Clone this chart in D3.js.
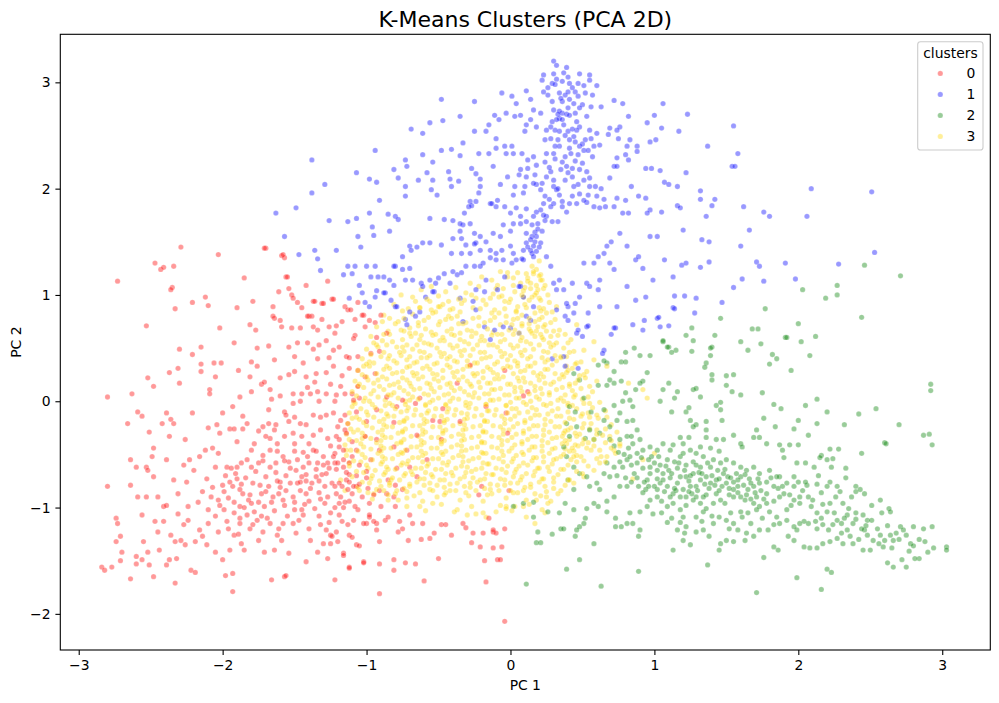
<!DOCTYPE html>
<html>
<head>
<meta charset="utf-8">
<script src="https://cdn.jsdelivr.net/npm/d3@7/dist/d3.min.js"></script>
<style>
  body { margin: 0; background: #fff; }
  svg text { font-family: "DejaVu Sans", sans-serif; }
</style>
</head>
<body>
<div id="chart"></div>
<script>
// cluster labels + colours (seaborn palette passed as a list)
const clusterNames = ["0", "1", "2", "3"];
const clusterColors = ["red", "blue", "green", "gold"];

const xTicks = [-3, -2, -1, 0, 1, 2, 3];
const yTicks = [-2, -1, 0, 1, 2, 3];

// PCA coordinates, [PC1, PC2]
const cluster0 = [
[-2.73,1.13],[-2.47,1.30],[-2.43,1.24],[-2.41,1.26],[-2.34,1.27],[-2.29,1.45],[-2.35,1.07],[-2.36,1.05],[-2.33,0.87],[-2.53,0.71],[-2.21,0.93],[-2.12,0.98],[-2.10,0.90],[-2.03,1.38],[-2.02,0.69],[-1.90,0.88],[-1.85,1.16],[-1.81,0.72],[-1.79,0.94],[-1.77,0.67],[-1.70,1.44],[-1.65,0.89],[-1.64,0.78],[-1.61,1.03],[-1.59,1.37],[-1.57,1.35],[-1.56,1.17],[-1.54,1.06],[-1.52,1.00],[-1.51,0.97],[-1.48,0.93],[-1.45,0.88],[-1.42,1.09],[-1.40,0.80],[-1.38,0.80],[-1.37,0.94],[-1.31,0.92],[-1.27,1.13],[-1.24,0.96],[-1.15,0.89],[-1.13,0.86],[-1.06,0.93],[-1.08,0.62],[-1.02,0.81],[-0.98,0.76],[-0.94,0.74],
[-1.65,0.80],[-1.60,0.76],[-1.59,0.70],[-1.52,0.69],[-1.46,0.69],[-1.41,0.80],[-1.37,0.70],[-1.34,0.67],[-1.31,0.77],[-1.26,0.70],[-1.22,0.64],[-1.21,0.71],[-1.17,0.75],[-1.08,0.77],[-1.03,0.81],[-1.01,0.70],[-0.90,0.81],[-1.36,0.94],[-1.30,0.92],[-1.23,0.96],[-1.11,0.86],[-1.55,1.17],[-1.71,1.44],[-1.58,1.38],
[-2.30,0.49],[-2.15,0.51],[-2.21,0.44],[-1.92,0.55],[-1.76,0.50],[-1.68,0.52],[-1.54,0.51],[-1.48,0.55],[-1.41,0.55],[-1.33,0.53],[-1.28,0.57],[-1.34,0.40],[-1.37,0.49],[-1.23,0.48],[-1.19,0.51],[-1.14,0.42],[-1.09,0.59],[-1.06,0.42],[-0.97,0.45],[-0.91,0.47],
[-2.37,0.27],[-2.31,0.31],[-2.15,0.35],[-2.15,0.28],[-2.06,0.36],[-2.01,0.36],[-2.05,0.23],[-1.89,0.29],[-1.80,0.37],[-1.76,0.33],[-1.81,0.23],[-1.64,0.39],[-1.60,0.22],[-1.54,0.25],[-1.50,0.28],[-1.44,0.36],[-1.42,0.23],[-1.35,0.26],[-1.28,0.27],[-1.23,0.33],[-1.17,0.24],[-1.12,0.41],[-1.12,0.31],[-1.06,0.29],[-1.01,0.23],[-0.94,0.26],
[-2.52,0.22],[-2.48,0.14],[-2.30,0.17],[-2.63,0.07],[-2.80,0.04],[-2.09,0.11],[-2.09,0.07],[-1.93,-0.05],[-1.88,0.04],[-1.73,0.16],[-1.71,0.18],[-1.80,0.09],[-1.67,0.11],[-1.66,0.02],[-1.51,0.07],[-1.45,0.07],[-1.41,0.13],[-1.39,0.07],[-1.34,0.09],[-1.28,0.07],[-1.21,0.06],[-1.15,0.07],[-1.10,0.07],[-1.06,0.14],[-1.57,-0.10],[-1.51,-0.02],
[-2.59,-0.10],[-2.56,-0.14],[-2.66,-0.21],[-2.51,-0.29],[-2.42,-0.21],[-2.39,-0.11],[-2.36,-0.17],[-2.34,-0.21],[-2.37,-0.33],[-2.26,-0.36],[-2.21,-0.11],[-2.10,-0.25],[-2.00,-0.11],[-2.04,-0.22],[-2.02,-0.30],[-1.95,-0.26],[-1.92,-0.26],[-1.86,-0.14],[-1.83,-0.21],[-1.86,-0.26],[-1.75,-0.28],[-1.72,-0.24],[-1.68,-0.21],[-1.64,-0.27],[-1.63,-0.22],[-1.67,-0.35],[-1.56,-0.13],[-1.54,-0.19],[-1.50,-0.15],[-1.46,-0.21],[-1.42,-0.22],[-1.37,-0.13],[-1.32,-0.15],[-1.28,-0.13],[-1.23,-0.11],[-1.20,-0.24],[-1.15,-0.13],[-1.21,-0.33],[-1.27,-0.35],[-1.37,-0.32],[-1.51,-0.30],[-1.57,-0.33],[-1.15,-0.27],[-1.13,-0.21],
[-2.64,-0.55],[-2.60,-0.62],[-2.53,-0.62],[-2.52,-0.65],[-2.49,-0.52],[-2.48,-0.44],[-2.39,-0.55],[-2.27,-0.60],[-2.23,-0.55],[-2.20,-0.65],[-2.16,-0.52],[-2.12,-0.46],[-2.07,-0.44],[-2.03,-0.49],[-1.97,-0.62],[-1.94,-0.63],[-1.90,-0.62],[-1.87,-0.58],[-1.83,-0.55],[-1.80,-0.46],[-1.75,-0.58],[-1.72,-0.51],[-1.67,-0.46],[-1.62,-0.47],[-1.58,-0.52],[-1.54,-0.57],[-1.50,-0.47],[-1.48,-0.55],[-1.44,-0.62],[-1.41,-0.52],[-1.37,-0.46],[-1.34,-0.58],[-1.30,-0.52],[-1.27,-0.58],[-1.22,-0.49],[-1.19,-0.43],[-1.16,-0.55],[-1.12,-0.58],[-1.07,-0.46],
[-2.80,-0.80],[-2.64,-0.79],[-2.59,-0.90],[-2.56,-1.07],[-2.53,-0.90],[-2.48,-0.71],[-2.45,-0.90],[-2.41,-0.99],[-2.39,-0.98],[-2.34,-0.74],[-2.31,-0.87],[-2.25,-0.76],[-2.24,-0.99],[-2.17,-0.95],[-2.11,-0.73],[-2.08,-0.90],[-2.07,-0.81],[-2.03,-0.93],[-2.00,-0.79],[-1.96,-0.91],[-1.93,-0.80],[-1.90,-0.73],[-1.88,-0.99],[-1.86,-0.87],[-1.82,-0.93],[-1.79,-0.77],[-1.75,-0.95],[-1.73,-0.87],[-1.68,-0.80],[-1.65,-0.90],[-1.61,-0.87],[-1.60,-0.76],[-1.56,-0.84],[-1.53,-0.77],[-1.51,-0.90],[-1.48,-0.77],[-1.45,-0.71],[-1.42,-0.87],[-1.38,-0.77],[-1.35,-0.71],[-1.31,-0.69],[-1.29,-0.80],[-1.24,-0.77],[-1.21,-0.87],[-1.17,-0.80],[-1.14,-0.74],[-1.10,-0.87],[-1.07,-0.80],[-1.03,-0.90],[-0.99,-0.82],[-0.95,-0.88],[-0.91,-0.84],[-0.86,-0.87],
[-2.74,-1.10],[-2.73,-1.15],[-2.71,-1.27],[-2.74,-1.32],[-2.70,-1.42],[-2.71,-1.50],[-2.84,-1.56],[-2.82,-1.59],[-2.77,-1.56],[-2.64,-1.67],[-2.60,-1.46],[-2.60,-1.53],[-2.56,-1.49],[-2.55,-1.32],[-2.51,-1.54],[-2.52,-1.42],[-2.48,-1.65],[-2.47,-1.13],[-2.45,-1.23],[-2.44,-1.40],[-2.41,-1.13],[-2.39,-1.54],[-2.37,-1.49],[-2.36,-1.26],[-2.33,-1.32],[-2.32,-1.48],[-2.33,-1.71],[-2.31,-1.06],[-2.29,-1.31],[-2.27,-1.16],[-2.26,-1.35],[-2.24,-1.12],[-2.22,-1.59],[-2.19,-1.61],[-2.19,-1.32],[-2.16,-1.21],[-2.14,-1.27],[-2.11,-1.35],[-2.10,-1.15],[-2.05,-1.42],[-2.03,-1.23],[-2.00,-1.49],[-1.98,-1.64],[-1.97,-1.13],[-1.95,-1.40],[-1.93,-1.62],[-1.93,-1.79],[-1.92,-1.26],[-1.88,-1.15],[-1.87,-1.34],[-1.85,-1.40],[-1.83,-1.07],[-1.81,-1.20],[-1.76,-1.12],[-1.75,-1.31],[-1.72,-1.23],[-1.71,-1.42],[-1.67,-1.15],[-1.66,-1.68],[-1.64,-1.40],[-1.61,-1.20],[-1.59,-1.31],[-1.57,-1.65],[-1.56,-1.64],[-1.54,-1.43],[-1.51,-1.15],[-1.49,-1.24],[-1.44,-1.07],[-1.42,-1.51],[-1.39,-1.31],[-1.34,-1.42],[-1.32,-1.16],[-1.30,-1.34],[-1.27,-1.48],[-1.25,-1.26],[-1.22,-1.68],[-1.20,-1.32],[-1.17,-1.13],[-1.16,-1.43],[-1.12,-1.56],[-1.12,-1.26],[-1.09,-1.12],[-1.07,-1.35],[-1.02,-1.51],[-1.00,-1.15],[-0.98,-1.09],[-0.93,-1.15],[-0.91,-1.53],[-0.91,-1.81],[-0.91,-1.32],[-0.87,-1.12],
[-0.60,-1.69],[-0.17,-1.70],[-0.09,-1.49],[-0.12,-1.38],[-0.18,-1.50],[-0.50,-1.48],[-0.66,-1.53],[-0.73,-1.52],[-0.81,-1.49],[-0.81,-1.59],[-1.02,-1.52],[-1.12,-1.57],[-0.62,-1.30],[-0.56,-1.29],[-0.53,-1.24],[-0.48,-1.16],[-0.45,-1.16],[-0.41,-1.26],[-0.33,-1.15],[-0.31,-1.19],[-0.27,-1.33],[-0.21,-1.37],[-0.19,-1.24],[-0.26,-1.24],[-0.12,-1.23],[-0.10,-1.24],[-0.71,-1.31],[-0.78,-1.23],[-0.75,-1.20],[-0.68,-1.15],[-0.70,-1.07],[-0.61,-1.15],[-0.77,-1.13],[-0.80,-0.99],[-0.81,-0.90],[-0.85,-1.09],[-0.90,-0.99],[-0.93,-1.21],[-0.98,-1.07],[-0.95,-1.13],[-1.02,-1.15],[-1.05,-1.36],[-1.10,-1.28],[-1.13,-1.16],[-1.06,-1.02],[-1.12,-0.94],[-1.19,-0.96],[-1.21,-1.23],[-1.16,-1.45],[-1.24,-1.27],[-1.28,-1.21],[-1.25,-1.34],
[-0.97,-0.55],[-0.91,-0.46],[-0.93,-0.36],[-1.01,-0.33],[-1.07,-0.10],[-1.09,0.01],[-1.05,0.03],[-1.00,-0.19],[-0.93,-0.08],[-0.86,0.04],[-0.79,-0.05],[-0.75,0.01],[-0.66,-0.02],[-0.63,0.03],[-0.54,-0.18],[-0.48,-0.36],[-0.47,-0.07],[-0.35,-0.19],[-0.81,-0.43],[-0.79,-0.63],[-0.85,-0.74],[-0.80,-0.79],[-0.75,-0.83],[-0.65,-0.71],[-0.70,-0.62],[-0.72,-0.46],[-0.65,-0.32],[-0.58,-0.55],[-0.22,-0.88],[-0.20,-0.80],[-0.15,-1.10],[-0.12,-1.21],[-1.23,-0.52],[-1.16,-0.46],[-1.14,-0.30],[-1.19,-0.36],[-1.22,-0.58],[-1.12,-0.69],[-1.09,-0.80],[-1.13,-0.83],
[-0.04,0.29],[0.12,0.09],[0.09,0.05],[-0.03,-0.11],[-0.02,-0.30],[-0.01,-0.84],[-0.04,-1.20],[-0.06,-1.37],[-0.07,-1.49],[-0.04,-2.07],[-0.37,0.17],[-0.28,0.34],[-0.17,-0.05],[-0.81,-0.20],[-0.49,-0.19],[-0.93,0.60],[-0.86,0.64]
];
// extra reading of the crowded red core
const cluster0Core = [
[-1.98,-0.70],[-1.91,-0.68],[-1.84,-0.72],[-1.77,-0.66],[-1.70,-0.71],[-1.63,-0.67],[-1.56,-0.70],[-1.49,-0.65],[-1.42,-0.69],[-1.35,-0.64],[-1.28,-0.68],[-1.21,-0.64],[-1.14,-0.67],[-1.07,-0.70],[-1.00,-0.66],
[-1.99,-1.02],[-1.92,-1.05],[-1.85,-1.00],[-1.78,-1.04],[-1.71,-0.99],[-1.64,-1.03],[-1.57,-0.98],[-1.50,-1.02],[-1.43,-0.97],[-1.36,-1.01],[-1.29,-0.96],[-1.22,-1.00],[-1.15,-0.95],[-1.08,-0.99],
[-2.05,-1.08],[-1.96,-1.20],[-1.89,-1.25],[-1.79,-1.16],[-1.69,-1.10],[-1.62,-1.26],[-1.55,-1.08],[-1.47,-1.12],[-1.40,-1.20],[-1.33,-1.08],[-1.26,-1.14],[-1.19,-1.07],
[-2.14,-0.85],[-2.05,-0.62],[-1.99,-0.85],[-1.88,-0.83],[-1.81,-0.88],[-1.70,-0.85],[-1.63,-0.58],[-1.58,-0.93],[-1.46,-0.84],[-1.40,-0.58],[-1.33,-0.86],[-1.27,-0.90],[-1.20,-0.58],[-1.18,-0.90],[-1.05,-0.60],[-0.98,-0.96],
[-1.45,-0.33],[-1.40,-0.40],[-1.32,-0.27],[-1.25,-0.42],[-1.18,-0.18],[-1.10,-0.38],[-1.62,-0.40],[-1.70,-0.33],[-1.78,-0.40],[-1.90,-0.38],
[-1.46,0.00],[-1.33,0.00],[-1.25,0.16],[-1.18,0.14],[-1.36,0.18],[-1.60,0.05],[-1.50,0.42],[-1.26,0.41],[-1.68,-0.08],[-1.22,0.00],
[-1.95,-0.76],[-1.87,-0.78],[-1.80,-0.62],[-1.74,-0.79],[-1.67,-0.62],[-1.60,-0.81],[-1.53,-0.63],[-1.46,-0.76],[-1.39,-0.82],[-1.33,-0.75],[-1.26,-0.63],[-1.19,-0.77],[-1.12,-0.76],[-1.05,-0.78],[-1.40,-0.94],[-1.32,-0.92],[-1.25,-1.05],[-1.16,-1.00],[-1.50,-0.95],[-1.66,-0.95],[-1.80,-0.96],[-1.92,-0.95],[-1.88,-1.10],[-1.73,-1.08],[-1.58,-1.15],[-1.45,-1.02],[-1.30,-0.60],[-1.16,-0.62],[-1.10,-0.52],[-1.00,-0.72],[-2.02,-0.98],[-2.10,-1.02],[-1.50,-0.40],[-1.35,-0.47],[-1.44,-0.48],[-1.57,-0.56],[-1.72,-0.56],[-1.62,-0.75],[-1.42,-0.75],[-1.22,-0.80]
];

const cluster1 = [
[0.30,3.20],[0.32,3.16],[0.39,3.14],[0.23,3.07],[0.30,3.08],[0.37,3.09],[0.48,3.08],[0.55,3.07],[0.40,3.05],[0.22,3.02],[0.29,2.99],[0.31,2.98],[0.36,3.01],[0.41,2.99],[0.47,2.99],[0.55,3.02],[0.60,2.97],[0.51,2.97],[0.23,2.91],[0.26,2.88],[0.34,2.90],[0.38,2.88],[0.40,2.91],[0.45,2.91],[0.47,2.87],[0.57,2.88],[0.14,2.84],[0.11,2.92],[0.04,2.80],[0.01,2.87],[-0.06,2.90],[-0.25,2.82],[-0.48,2.84],[0.29,2.82],[0.36,2.82],[0.41,2.84],[0.50,2.79],[0.48,2.76],[0.56,2.77],[0.63,2.77],[0.72,2.83],[0.78,2.80],[1.06,2.80],[1.23,2.70],[1.55,2.59],[1.58,2.33],[1.54,2.21],[1.56,2.21],[1.62,1.83],[1.76,1.78],[1.80,1.74],[1.66,1.61],[1.60,1.46],[1.71,1.31],[1.73,1.27],[1.76,1.13],[1.61,1.15],[1.55,1.07],[1.47,0.93],[1.37,2.40],[1.17,2.54],[1.00,2.69],[0.95,2.62],[1.01,2.46],[0.97,2.44],[1.05,2.57],[0.83,2.46],[0.82,2.68],[0.76,2.58],[0.74,2.55],[0.69,2.57],[0.68,2.51],[0.75,2.47],[0.81,2.40],[0.88,2.40],[0.88,2.35],[0.82,2.27],[0.80,2.32],[0.74,2.29],[0.72,2.21],[0.74,2.21],[0.69,2.10],[0.94,2.19],[0.98,2.19],[1.04,2.17],[1.22,2.15],[1.07,2.06],[1.10,2.04],[1.16,2.02],[1.32,1.98],[1.42,1.90],[1.32,1.90],[1.40,1.84],[1.36,1.74],[1.16,1.84],[1.18,1.82],[1.05,1.78],[0.97,1.80],[0.95,1.77],[0.84,2.02],[0.89,1.93],[0.94,1.91],[0.80,1.89],[0.74,1.91],[0.78,1.77],[0.82,1.77],[0.72,1.83],[0.66,1.83],[0.62,1.82],[0.58,1.83],[0.60,1.93],[0.53,1.87],[0.51,1.89],[0.54,1.94],[0.59,2.02],[0.55,2.02],[0.51,2.08],[0.47,2.04],[0.44,2.02],[0.43,1.93],[0.46,1.86],[0.41,1.86],[0.48,2.18],[0.53,2.16],[0.43,2.11],[0.43,2.19],[0.39,2.21],[0.36,2.25],[0.30,2.08],[0.30,2.02],[0.32,1.99],[0.34,1.94],[0.30,1.86],[0.36,1.88],[0.36,1.83],[0.28,1.83],[0.25,1.74],[0.23,1.75],[0.29,1.69],[0.33,1.69],[0.19,1.67],[0.15,1.66],[0.11,1.69],[0.17,1.59],[0.18,1.55],[0.15,1.55],[0.17,1.50],[0.16,1.46],[0.14,1.42],[0.18,1.41],[0.11,1.49],[0.09,1.42],[0.21,1.49],[0.15,1.39],[0.04,1.33],[0.02,1.39],[0.00,1.46],[0.09,1.33],[0.11,1.58],[0.07,1.67],[0.16,1.74],[0.21,1.80],[0.23,1.86],[0.24,1.93],[0.21,1.99],[0.18,2.04],[0.22,2.05],[0.25,2.11],[0.28,2.16],[0.24,2.25],[0.25,2.33],[0.30,2.33],[0.33,2.46],[0.34,2.40],[0.31,2.40],[0.24,2.46],[0.28,2.47],[0.34,2.54],[0.31,2.55],[0.34,2.66],[0.36,2.65],[0.32,2.65],[0.36,2.71],[0.34,2.73],[0.30,2.74],[0.39,2.70],[0.41,2.69],[0.45,2.71],[0.46,2.63],[0.48,2.58],[0.46,2.55],[0.44,2.49],[0.40,2.54],[0.41,2.46],[0.48,2.40],[0.47,2.32],[0.51,2.36],[0.54,2.36],[0.58,2.40],[0.56,2.47],[0.52,2.46],[0.60,2.52],[0.62,2.41],[0.41,2.38],[0.38,2.30],[0.29,2.63],[0.25,2.55],[0.18,2.58],[0.10,2.54],[0.11,2.60],[0.14,2.65],[0.21,2.71],[0.16,2.74],[0.07,2.69],[0.03,2.68],[-0.03,2.71],[-0.08,2.65],[-0.11,2.69],[-0.15,2.60],[-0.17,2.54],[-0.10,2.47],[-0.04,2.40],[0.01,2.40],[-0.03,2.33],[0.02,2.33],[0.08,2.33],[0.12,2.27],[0.16,2.30],[0.18,2.22],[0.12,2.19],[0.07,2.18],[0.06,2.13],[0.11,2.11],[0.17,2.13],[0.16,2.05],[0.10,2.02],[0.09,1.96],[0.03,2.02],[0.02,1.94],[-0.02,2.11],[-0.07,2.04],[-0.09,1.89],[-0.10,1.83],[-0.14,1.86],[-0.04,1.83],[0.00,1.77],[0.04,1.82],[0.11,1.81],[0.07,1.74],[0.02,1.67],[-0.05,1.66],[0.00,1.60],[-0.07,1.55],[-0.12,1.58],[-0.17,1.50],[-0.21,1.55],[-0.25,1.58],[-0.28,1.67],[-0.33,1.66],[-0.35,1.60],[-0.40,1.53],[-0.34,1.53],[-0.31,1.47],[-0.24,1.49],[-0.21,1.42],[-0.14,1.42],[-0.10,1.39],[-0.06,1.42],[-0.14,1.35],[-0.19,1.30],[-0.25,1.27],[-0.31,1.27],[-0.34,1.21],[-0.40,1.22],[-0.46,1.20],[-0.50,1.16],[-0.56,1.14],[-0.62,1.11],[-0.68,1.14],[-0.70,1.25],[-0.75,1.24],[-0.80,1.27],[-0.84,1.14],[-0.88,1.17],[-0.87,1.02],[-0.80,0.89],[-0.73,0.77],[-0.66,0.80],[-0.59,0.98],[-0.53,1.03],[-0.42,1.11],[-0.35,0.97],[-0.24,1.05],[-0.21,1.27],[-0.10,1.33],[-0.17,1.14],[-0.09,1.05],[-0.04,1.17],[0.07,1.08],[0.09,0.98],[0.16,0.89],[0.11,0.80],[0.28,1.27],[0.30,1.11],[0.34,1.14],[0.37,1.05],[0.43,1.11],[0.45,0.92],[0.40,0.89],[0.48,0.98],[0.53,1.11],[0.55,1.08],[0.61,1.05],[0.62,1.14],[0.51,1.30],[0.58,1.30],[0.61,1.36],[0.65,1.39],[0.69,1.30],[0.72,1.24],[0.67,1.46],[0.70,1.50],[0.76,1.58],[0.81,1.46],[0.87,1.33],[0.89,1.36],[0.92,1.25],[0.97,1.55],[1.02,1.55],[1.07,1.33],[1.13,1.17],[1.19,1.28],[1.22,1.30],[1.32,1.26],[1.33,1.52],[1.38,1.50],[1.38,1.31],[1.20,1.61],[0.81,1.08],[0.87,0.95],[0.94,0.98],[0.99,1.14],[1.02,0.78],[1.13,0.88],[1.29,0.97],[1.28,0.83],[0.74,0.89],[0.62,0.89],[0.54,0.83],[0.38,0.80],[0.32,0.86],
[-0.69,2.56],[-0.61,2.52],[-0.56,2.62],[-0.47,2.64],[-0.35,2.68],[-0.25,2.54],[-0.33,2.43],[-0.48,2.36],[-0.41,2.37],[-0.35,2.31],[-0.22,2.33],[-0.15,2.33],[-0.10,2.38],[-0.61,2.32],[-0.54,2.25],[-0.73,2.27],[-0.72,2.21],[-0.81,2.18],[-0.78,2.10],[-0.64,2.08],[-0.58,2.15],[-0.54,2.08],[-0.43,2.16],[-0.42,2.09],[-0.27,2.19],[-0.24,2.14],[-0.21,2.09],[-0.12,2.21],[-0.73,2.02],[-0.73,1.93],[-0.55,1.99],[-0.51,1.94],[-0.41,2.02],[-0.36,2.07],[-0.21,2.02],[-0.22,1.96],[-0.28,1.88],[-0.29,1.83],[-0.32,1.77],[-0.27,1.84],[-0.24,1.88],[-0.13,1.86],[-0.85,1.76],[-0.80,1.74],[-0.78,1.71],[-0.84,1.60],[-0.56,1.72],[-0.46,1.71],[-0.40,1.70],[-0.35,1.67],[-0.70,1.46],[-0.69,1.42],[-0.65,1.45],[-0.61,1.49],[-0.56,1.49],[-0.48,1.47],[-0.41,1.39],[-0.34,1.39],[-0.28,1.39],[-0.25,1.48],[-0.75,1.36],[-0.81,1.27],[-0.81,1.09],[-0.73,1.14],[-0.61,1.08],[-0.54,1.03],
[-1.38,2.27],[-1.38,1.96],[-1.29,2.04],[-1.63,1.77],[-1.49,1.82],[-1.57,1.55],[-1.47,1.38],[-1.36,1.42],[-1.34,1.34],[-1.32,1.23],[-1.26,1.70],[-1.21,1.42],[-1.16,1.19],[-1.12,0.97],[-1.13,1.69],[-1.07,2.15],[-1.07,1.72],[-1.06,1.55],[-1.08,1.27],[-1.13,1.27],[-1.05,1.09],[-1.03,1.02],[-1.01,0.93],[-1.04,1.45],[-1.00,1.27],[-0.98,1.77],[-0.98,2.09],[-0.96,1.64],[-0.94,2.36],[-0.93,2.06],[-0.95,1.56],[-0.94,1.27],[-0.97,1.17],[-0.92,1.17],[-0.93,1.04],[-0.94,0.98],[-0.98,0.89],[-0.91,1.89],
[-1.10,1.20],[-0.88,1.02],[-0.83,0.95],[-0.79,0.89],[-0.72,0.72],[-0.70,0.84],[-0.63,0.84],[-0.52,1.11],[-0.37,1.19],[-0.33,0.75],[-0.26,0.94],[-0.24,0.86],[-0.18,0.70],[-0.18,1.03],[-0.14,0.58],[-0.11,0.67],[-0.05,0.70],[0.00,0.69],[0.06,0.64],[0.14,0.76],[0.06,1.08],[0.08,1.34],[-0.05,1.33],[0.01,1.30],[0.25,1.36],[0.32,1.05],[0.39,0.92],[0.44,0.83],[0.53,0.70],[0.46,0.64],[0.65,0.48],[0.73,0.69],[0.37,0.42],[0.38,0.33],[0.29,0.40],[0.47,0.31],[0.64,0.45],
[2.09,2.00],[2.51,1.97],[2.06,1.74],[2.53,1.40],[2.28,1.29],[1.91,1.30],[1.98,1.15],[0.92,0.67],[0.70,0.63],[0.72,0.69],[0.54,0.71],[0.47,0.67],[0.50,0.61],[0.40,0.76],[1.03,0.79],[1.10,0.71],[0.85,0.72],[0.93,0.76],[1.04,0.70],[1.14,0.87],[1.21,0.99],[1.14,0.99]
];
// extra reading of the darker blue column
const cluster1Core = [
[0.20,1.45],[0.14,1.52],[0.19,1.62],[0.24,1.70],[0.18,1.78],[0.27,1.90],[0.33,2.00],[0.38,2.08],[0.40,2.15],[0.35,2.18],[0.45,2.26],[0.42,2.33],[0.50,2.42],[0.45,2.44],[0.38,2.50],[0.43,2.56],[0.37,2.60],[0.33,2.70],[0.40,2.76],[0.44,2.80],[0.35,2.85],[0.43,2.95],[0.32,3.03],[0.26,2.95],[0.52,2.90],[0.53,2.68],[0.55,2.55],[0.57,2.30],[0.50,2.24],[0.55,2.10],[0.63,2.00],[0.65,1.90],[0.48,1.95],[0.39,1.78],[0.12,1.45],[0.16,1.36],[0.22,1.60],[0.27,2.20],[0.31,2.28],[0.28,2.58]
];

const cluster2 = [
[1.22,0.62],[1.42,0.62],[1.74,0.54],[1.60,0.56],[1.82,0.44],[1.85,0.40],[1.80,0.35],[1.91,0.60],[2.02,0.56],[2.08,0.43],[2.12,0.61],[1.95,0.29],[1.65,0.48],[1.40,0.51],[1.39,0.43],[1.36,0.36],[1.35,0.32],[1.26,0.47],[1.15,0.48],[1.10,0.51],[1.12,0.46],[1.06,0.56],[0.97,0.43],[0.90,0.43],[0.86,0.50],[0.80,0.46],[0.77,0.37],[0.80,0.37],[0.67,0.36],[0.65,0.38],[0.61,0.34],[0.72,0.28],[0.69,0.20],[0.77,0.19],[0.72,0.17],[0.67,0.15],[0.95,0.27],[0.92,0.19],[0.90,0.17],[0.87,0.11],[0.80,0.08],[0.83,0.01],[0.78,0.00],[0.85,-0.05],[1.04,0.00],[1.06,0.11],[1.10,0.17],[1.16,0.09],[1.14,0.03],[1.12,-0.10],[1.22,-0.10],[1.27,0.11],[1.29,0.12],[1.32,0.04],[1.40,0.20],[1.40,0.25],[1.43,-0.04],[1.46,-0.01],[1.50,0.24],[1.55,0.25],[1.50,0.15],[1.54,0.09],[1.60,0.06],[1.47,-0.18],[1.46,-0.08],[1.55,-0.32],[1.48,-0.36],[1.43,-0.36],[1.36,-0.19],[1.29,-0.22],[1.27,-0.24],[1.25,-0.18],[1.24,-0.34],[1.18,-0.34],[1.24,-0.06],[1.36,-0.27],[1.36,-0.34],[1.45,-0.47],[1.60,-0.40],[1.61,-0.43],[1.69,-0.34],[1.71,-0.27],[1.73,-0.34],[1.76,-0.16],[1.75,0.08],[1.83,-0.03],[1.88,-0.07],[1.84,-0.24],[1.78,-0.40],[1.87,-0.41],[1.89,-0.46],[1.94,-0.41],[2.00,-0.41],[1.97,-0.26],[2.00,-0.18],[2.07,-0.32],[2.05,-0.04],[2.13,0.02],[2.20,-0.10],[2.13,-0.21],[2.16,-0.51],[2.20,-0.55],[2.24,-0.54],[2.28,-0.45],[2.32,-0.22],[2.42,-0.12],[2.54,-0.07],[2.70,-0.22],[2.44,-0.49],[2.60,-0.39],[2.87,-0.32],[2.91,-0.31],[2.93,-0.41],[2.92,0.16],[2.92,0.10],[2.33,-0.63],[2.33,-0.72],[2.40,-0.80],[2.27,-0.80],[2.29,-0.85],[2.22,-0.76],[2.20,-0.80],[2.16,-0.86],[2.13,-0.78],[2.06,-0.79],[2.05,-0.76],[2.00,-0.76],[1.99,-0.58],[2.05,-0.58],[2.11,-0.62],[2.14,-0.70],[2.23,-0.62],[1.90,-0.53],[1.87,-0.71],[1.86,-0.82],[1.90,-0.87],[1.94,-0.88],[1.97,-0.93],[2.01,-0.90],[2.01,-0.96],[2.07,-0.90],[2.09,-0.99],[2.13,-1.05],[2.20,-1.04],[2.22,-0.96],[2.26,-0.90],[2.31,-0.96],[2.37,-0.90],[2.40,-0.85],[2.43,-0.83],[2.46,-0.87],[2.51,-0.98],[2.57,-0.93],[2.58,-1.05],[2.63,-1.01],[2.64,-1.04],[2.71,-1.18],[2.80,-1.18],[2.87,-1.20],[2.93,-1.18],[2.88,-1.32],[2.94,-1.38],[3.03,-1.37],[3.03,-1.40],[2.90,-1.42],[2.84,-1.48],[2.77,-1.41],[2.78,-1.34],[2.75,-1.26],[2.68,-1.24],[2.64,-1.26],[2.66,-1.31],[2.65,-1.38],[2.59,-1.37],[2.56,-1.34],[2.57,-1.26],[2.52,-1.31],[2.48,-1.26],[2.46,-1.21],[2.44,-1.20],[2.48,-1.12],[2.51,-1.12],[2.45,-1.07],[2.40,-1.05],[2.35,-1.01],[2.34,-1.07],[2.38,-1.15],[2.34,-1.21],[2.30,-1.15],[2.27,-1.12],[2.24,-1.16],[2.21,-1.21],[2.17,-1.16],[2.13,-1.20],[2.12,-1.13],[2.07,-1.15],[2.04,-1.13],[2.01,-1.15],[1.99,-1.21],[1.97,-1.18],[1.93,-1.27],[1.97,-1.31],[2.04,-1.37],[2.08,-1.38],[2.13,-1.38],[2.17,-1.34],[2.22,-1.32],[2.27,-1.29],[2.31,-1.34],[2.36,-1.27],[2.38,-1.34],[2.45,-1.40],[2.50,-1.40],[2.62,-1.52],[2.66,-1.56],[2.72,-1.49],[2.75,-1.56],[2.81,-1.48],[2.20,-1.58],[2.23,-1.61],[2.16,-1.77],[1.99,-1.66],[1.71,-1.80],[1.76,-1.47],[1.86,-1.40],[1.83,-1.37],[1.73,-1.21],[1.79,-1.21],[1.83,-1.16],[1.87,-1.15],[1.92,-1.12],[1.85,-1.09],[1.80,-1.04],[1.78,-0.96],[1.73,-0.99],[1.69,-0.96],[1.71,-1.02],[1.65,-1.05],[1.61,-1.09],[1.55,-1.15],[1.58,-1.21],[1.64,-1.24],[1.69,-1.27],[1.63,-1.31],[1.55,-1.32],[1.50,-1.31],[1.46,-1.34],[1.45,-1.40],[1.38,-1.27],[1.34,-1.21],[1.29,-1.23],[1.25,-1.35],[1.20,-1.31],[1.21,-1.24],[1.16,-1.21],[1.13,-1.40],[1.09,-1.14],[1.12,-1.10],[1.20,-1.09],[1.22,-1.18],[1.29,-1.09],[1.34,-1.04],[1.41,-1.15],[1.45,-1.09],[1.50,-1.12],[1.53,-1.05],[1.60,-1.04],[1.63,-0.93],[1.55,-0.90],[1.49,-0.96],[1.46,-0.93],[1.41,-0.96],[1.36,-1.01],[1.32,-0.96],[1.27,-0.93],[1.22,-0.98],[1.18,-1.02],[1.13,-0.96],[1.09,-0.99],[1.05,-0.94],[1.02,-0.90],[0.97,-0.93],[0.95,-0.99],[0.90,-1.04],[0.83,-1.05],[0.85,-1.15],[0.89,-1.27],[0.90,-1.21],[0.81,-1.15],[0.77,-1.18],[0.73,-1.18],[0.73,-1.10],[0.67,-1.04],[0.61,-0.99],[0.58,-0.96],[0.53,-1.01],[0.52,-1.10],[0.48,-1.18],[0.45,-1.27],[0.46,-1.21],[0.58,-1.34],[0.48,-1.49],[0.39,-1.58],[0.63,-1.74],[0.89,-1.60],[1.37,-1.54],[0.02,-0.99],[0.11,-1.72],[0.18,-1.33],[0.21,-1.33],[0.19,-1.23],[0.29,-1.25],[0.35,-1.20],[0.16,-1.09],[0.26,-1.04],[0.09,-0.96],[0.16,-0.95],
[0.58,-0.36],[0.62,-0.30],[0.69,-0.36],[0.76,-0.36],[0.81,-0.33],[0.84,-0.33],[0.90,-0.36],[0.92,-0.46],[0.97,-0.43],[1.02,-0.46],[1.06,-0.40],[1.11,-0.46],[1.13,-0.41],[1.09,-0.55],[1.14,-0.57],[1.18,-0.52],[1.22,-0.60],[1.27,-0.57],[1.32,-0.62],[1.27,-0.68],[1.22,-0.71],[1.18,-0.71],[1.16,-0.77],[1.11,-0.72],[1.06,-0.68],[1.02,-0.65],[0.97,-0.68],[0.92,-0.63],[0.88,-0.58],[0.84,-0.60],[0.81,-0.55],[0.76,-0.57],[0.72,-0.62],[0.67,-0.58],[0.69,-0.71],[0.65,-0.68],[0.60,-0.77],[0.55,-0.80],[0.53,-0.71],[0.76,-0.80],[0.81,-0.80],[0.84,-0.76],[0.89,-0.80],[0.94,-0.83],[0.96,-0.80],[1.02,-0.83],[1.04,-0.77],[1.09,-0.80],[1.13,-0.87],[1.20,-0.83],[1.25,-0.80],[1.29,-0.80],[1.32,-0.74],[1.36,-0.71],[1.39,-0.77],[1.43,-0.74],[1.47,-0.80],[1.50,-0.77],[1.51,-0.71],[1.55,-0.76],[1.60,-0.71],[1.62,-0.79],[1.65,-0.83],[1.69,-0.80],[1.71,-0.90],[1.73,-0.77],[1.78,-0.76],[1.83,-0.80],[1.85,-0.71],[1.80,-0.65],[1.73,-0.68],[1.69,-0.62],[1.64,-0.65],[1.60,-0.62],[1.55,-0.58],[1.50,-0.55],[1.46,-0.58],[1.41,-0.55],[1.39,-0.62],[1.34,-0.52],[1.29,-0.49],[1.25,-0.46],[1.20,-0.49],[1.32,-0.43],[1.39,-0.44],[1.11,-0.90],[1.22,-0.90],[1.29,-0.90],[1.36,-0.88],[1.43,-0.87],[1.55,-0.83],[1.60,-0.90],[1.64,-0.88],[1.87,-0.90],[1.92,-0.77],[1.97,-0.71],[1.97,-0.80],[1.78,-0.87],[1.83,-0.94],
[0.44,0.26],[0.48,0.20],[0.61,0.15],[0.51,0.03],[0.41,-0.05],[0.45,-0.10],[0.39,-0.21],[0.46,-0.24],[0.41,-0.33],[0.52,-0.35],[0.55,-0.27],[0.65,-0.18],[0.69,-0.24],[0.74,-0.18],[0.76,-0.11],[0.81,-0.19],[0.85,-0.18],[0.88,-0.27],[0.72,-0.04],[0.65,-0.08],[0.56,-0.10],[0.37,-0.43],[0.39,-0.52],[0.44,-0.62],[0.48,-0.68],[0.40,-0.74],[0.44,-0.83],[0.38,-0.96],[0.34,-1.05],[0.44,-1.02],[0.37,-1.20],[0.51,-1.15],[0.67,-0.94],[0.62,-0.83],[0.72,-0.90],
[2.46,1.28],[2.71,1.18],[2.27,1.09],[2.27,1.00],[2.19,0.97],[2.03,1.05],[1.77,0.87],[1.46,0.78],[1.26,0.69],[2.00,0.73],[1.92,0.60],[2.44,0.79],[1.68,0.68],[1.72,0.68],[1.06,0.57],[1.27,0.57],[1.09,0.51],[1.39,0.50],[2.61,-0.40],[2.22,-0.45],[2.15,-0.53]
];
// extra reading of the crowded green band
const cluster2Core = [
[0.86,-0.68],[0.95,-0.74],[1.00,-0.58],[1.07,-0.85],[1.16,-0.63],[1.24,-0.75],[1.31,-0.67],[1.38,-0.82],[1.44,-0.65],[1.52,-0.88],[1.57,-0.68],[1.66,-0.73],[1.74,-0.84],[1.81,-0.72],[1.89,-0.80],[1.95,-0.98],[2.03,-0.84],[2.10,-0.93],[2.17,-0.97],[2.25,-1.05],[2.32,-1.10],[2.40,-1.11],[2.47,-1.17],[2.55,-1.20],[2.62,-1.17],[2.70,-1.30],[2.80,-1.36],[0.98,-0.52],[1.04,-0.60],[1.10,-0.65],[1.15,-0.84],[1.26,-0.87],[1.34,-0.90],[1.42,-0.79],[1.48,-0.68],[1.58,-0.80],[1.67,-0.92],[1.76,-0.92],[1.92,-1.02],[2.16,-1.10],[2.30,-1.24],[2.42,-1.30],[2.60,-1.31],[2.73,-1.21],[2.84,-1.30],[0.75,-0.48],[0.82,-0.44],[0.88,-0.49],[0.96,-0.55],[1.20,-0.40],[1.02,-0.73],[0.99,-1.06],[1.05,-1.05],[1.18,-1.14],[1.33,-1.13],[1.40,-1.08],[1.52,-1.20],[1.67,-1.15],[1.75,-1.10],
[0.72,-0.42],[0.79,-0.50],[0.85,-0.40],[0.91,-0.53],[0.97,-0.62],[1.03,-0.52],[1.08,-0.61],[1.12,-0.68],[1.17,-0.58],[1.21,-0.65],[1.25,-0.70],[1.29,-0.60],[1.33,-0.68],[1.37,-0.58],[1.40,-0.70],[1.45,-0.73],[1.49,-0.64],[1.53,-0.72],[1.58,-0.74],[1.63,-0.69],[1.67,-0.77],[1.72,-0.73],[0.88,-0.72],[0.93,-0.76],[1.00,-0.80],[1.06,-0.74],[1.14,-0.82],[1.18,-0.90],[1.24,-0.85],[1.30,-0.84],[1.35,-0.78],[1.45,-0.84],[1.52,-0.82],[1.58,-0.86],[1.70,-0.86],[0.83,-0.52],[0.78,-0.62],[0.74,-0.70],[0.80,-0.72],[0.92,-0.86]
];

const cluster3 = [
[0.20,1.32],[0.15,1.27],[0.18,1.24],[0.11,1.20],[0.07,1.11],[0.22,1.14],[0.23,1.06],[0.19,1.05],[0.14,1.11],[-0.02,1.21],[-0.07,1.22],[-0.13,1.14],[0.02,1.16],[-0.09,1.09],[-0.14,0.97],[-0.04,0.94],[-0.24,0.97],[-0.34,0.92],[-0.43,0.94],[-0.43,0.80],[-0.49,0.89],[-0.68,0.98],[-0.63,0.88],[-0.76,1.00],[0.16,1.20],[0.21,1.14],[0.14,1.06],[0.18,1.02],[0.09,0.98],[-0.10,1.06],[-0.20,1.17],[-0.28,1.11],[-0.50,0.89],[-0.56,0.94],[-0.88,0.81],[-0.76,0.67],[-0.70,0.64],[-0.86,0.53],[-0.92,0.51],[-0.98,0.37],[-1.02,0.33],[-0.99,0.20],[-1.06,0.14],[-1.02,0.00],[-1.08,-0.02],[-1.07,-0.15],[-1.09,-0.29],[-1.03,-0.35],[-1.14,-0.46],[-1.12,-0.58],[-1.18,-0.74],[-1.15,-0.84],[-1.05,-0.84],[-0.95,-0.87],[-0.85,-0.93],[-0.72,-0.91],[-0.63,-0.99],[-0.54,-0.96],[-0.37,-1.02],[-0.30,-1.07],[-0.24,-1.06],[-0.17,-1.09],[-0.10,-1.04],[-0.03,-0.99],[0.09,-0.99],[0.18,-0.93],[0.25,-0.90],[0.35,-0.84],[0.44,-0.77],[0.51,-0.71],[0.58,-0.65],[0.62,-0.58],[0.67,-0.52],[0.72,-0.46],[0.76,-0.40],[0.69,-0.33],[0.60,-0.27],[0.55,-0.15],[0.67,-0.15],[0.51,-0.02],[0.44,0.04],[0.41,0.14],[0.37,0.23],[0.39,0.33],[0.35,0.42],[0.32,0.55],[0.28,0.61],[0.23,0.70],[0.25,0.83],[0.32,0.89],[0.46,0.72],[0.58,0.56],[0.51,0.48],[0.46,0.36],
[0.05,0.33],[0.95,0.03],[0.82,0.17],[0.92,0.11],[0.92,-0.55],[0.85,-0.73],[1.00,-0.49],[0.67,0.33],[0.58,0.39],[0.51,0.25],[0.40,-0.02],[0.42,-0.25],[0.17,-1.15],[0.24,-1.05],[0.11,-1.09],[0.03,-0.99],[-0.03,-1.01],[0.26,-0.96],
[0.36,-0.33],[0.41,-0.36],[0.46,-0.33],[0.50,-0.40],[0.38,-0.45],[0.44,-0.47],[0.49,-0.52],[0.53,-0.44],[0.35,-0.52],[0.42,-0.55],[0.47,-0.42],[0.39,-0.40],
[0.16,1.22],[0.21,1.19],[0.05,1.21],[-0.02,1.17],[0.12,1.16],
[-0.62,1.05],[-0.55,1.08],[-0.45,1.03],[-0.38,1.07],[-0.31,1.02],[-0.22,1.08],[-0.12,1.01],[-0.05,1.06],[0.03,1.03],[0.10,1.07],[0.17,1.00],[0.24,1.09],
[-0.81,0.91],[-0.71,0.87],[-0.66,0.94],[-0.55,0.86],[-0.47,0.91],[-0.40,0.87],[-0.32,0.95],[-0.26,0.88],[-0.17,0.91],[-0.11,0.86],[-0.01,0.93],[0.05,0.89],[0.13,0.95],[0.20,0.88],[0.27,0.93],
[-0.84,0.78],[-0.78,0.75],[-0.68,0.82],[-0.60,0.76],[-0.54,0.83],[-0.45,0.77],[-0.37,0.80],[-0.31,0.74],[-0.22,0.79],[-0.14,0.76],[-0.08,0.83],[0.02,0.77],[0.08,0.81],[0.17,0.75],[0.22,0.79],[0.31,0.77],
[-0.93,0.70],[-0.85,0.66],[-0.80,0.73],[-0.70,0.69],[-0.64,0.71],[-0.55,0.65],[-0.50,0.72],[-0.41,0.68],[-0.36,0.73],[-0.27,0.66],[-0.22,0.71],[-0.12,0.65],[-0.07,0.72],[0.03,0.67],[0.08,0.73],[0.18,0.66],[0.24,0.72],[0.34,0.67],
[-0.97,0.61],[-0.89,0.57],[-0.84,0.63],[-0.75,0.58],[-0.69,0.61],[-0.60,0.55],[-0.54,0.62],[-0.46,0.57],[-0.41,0.63],[-0.32,0.56],[-0.27,0.61],[-0.18,0.57],[-0.13,0.62],[-0.04,0.58],[0.02,0.63],[0.11,0.56],[0.17,0.61],[0.27,0.55],[0.33,0.62],[0.42,0.58],
[-1.00,0.49],[-0.93,0.53],[-0.88,0.46],[-0.79,0.51],[-0.74,0.47],[-0.65,0.53],[-0.60,0.46],[-0.51,0.50],[-0.46,0.45],[-0.37,0.52],[-0.32,0.48],[-0.23,0.53],[-0.18,0.46],[-0.09,0.51],[-0.04,0.45],[0.05,0.52],[0.10,0.48],[0.20,0.53],[0.26,0.46],[0.37,0.50],[0.44,0.47],
[-1.03,0.40],[-0.95,0.36],[-0.90,0.42],[-0.81,0.38],[-0.76,0.43],[-0.67,0.36],[-0.62,0.41],[-0.53,0.35],[-0.48,0.42],[-0.39,0.38],[-0.34,0.43],[-0.25,0.36],[-0.20,0.40],[-0.11,0.35],[-0.06,0.42],[0.03,0.38],[0.08,0.43],[0.17,0.36],[0.22,0.41],[0.32,0.38],[0.39,0.42],[0.49,0.37],
[-1.06,0.29],[-0.98,0.33],[-0.93,0.26],[-0.84,0.31],[-0.79,0.27],[-0.70,0.33],[-0.65,0.26],[-0.56,0.30],[-0.51,0.25],[-0.42,0.32],[-0.37,0.28],[-0.28,0.33],[-0.23,0.26],[-0.14,0.30],[-0.09,0.25],[0.00,0.32],[0.07,0.28],[0.12,0.33],[0.21,0.26],[0.26,0.30],[0.36,0.25],[0.43,0.31],[0.53,0.28],
[-1.08,0.19],[-1.00,0.23],[-0.95,0.17],[-0.86,0.21],[-0.81,0.16],[-0.72,0.20],[-0.67,0.24],[-0.58,0.17],[-0.53,0.21],[-0.44,0.16],[-0.39,0.23],[-0.30,0.19],[-0.25,0.24],[-0.16,0.17],[-0.11,0.21],[-0.02,0.16],[0.05,0.22],[0.10,0.18],[0.19,0.24],[0.24,0.17],[0.34,0.21],[0.41,0.16],[0.52,0.22],[0.60,0.19],
[-1.10,0.09],[-1.02,0.13],[-0.97,0.07],[-0.88,0.11],[-0.83,0.06],[-0.74,0.10],[-0.69,0.14],[-0.60,0.07],[-0.55,0.12],[-0.46,0.06],[-0.41,0.13],[-0.32,0.09],[-0.27,0.14],[-0.18,0.07],[-0.13,0.11],[-0.04,0.06],[0.03,0.13],[0.08,0.09],[0.17,0.14],[0.22,0.07],[0.32,0.11],[0.38,0.06],[0.49,0.12],[0.57,0.09],
[-1.09,-0.01],[-1.01,0.03],[-0.96,-0.03],[-0.87,0.01],[-0.82,-0.04],[-0.73,0.00],[-0.68,0.04],[-0.59,-0.03],[-0.54,0.01],[-0.45,-0.04],[-0.40,0.03],[-0.31,-0.01],[-0.26,0.04],[-0.17,-0.03],[-0.12,0.01],[-0.03,-0.04],[0.04,0.03],[0.09,-0.01],[0.18,0.04],[0.23,-0.03],[0.33,0.01],[0.40,-0.04],[0.50,0.02],[0.62,-0.01],
[-1.12,-0.11],[-1.04,-0.07],[-0.99,-0.13],[-0.90,-0.09],[-0.85,-0.14],[-0.76,-0.10],[-0.71,-0.06],[-0.62,-0.13],[-0.57,-0.09],[-0.48,-0.14],[-0.43,-0.07],[-0.34,-0.11],[-0.29,-0.06],[-0.20,-0.13],[-0.15,-0.09],[-0.06,-0.14],[0.01,-0.07],[0.06,-0.11],[0.15,-0.06],[0.20,-0.13],[0.29,-0.09],[0.35,-0.14],[0.46,-0.07],[0.54,-0.11],[0.66,-0.09],
[-1.13,-0.21],[-1.05,-0.17],[-1.00,-0.23],[-0.91,-0.19],[-0.86,-0.24],[-0.77,-0.20],[-0.72,-0.16],[-0.63,-0.23],[-0.58,-0.19],[-0.49,-0.24],[-0.44,-0.17],[-0.35,-0.21],[-0.30,-0.16],[-0.21,-0.23],[-0.16,-0.19],[-0.07,-0.24],[0.00,-0.17],[0.05,-0.21],[0.14,-0.16],[0.19,-0.23],[0.28,-0.19],[0.34,-0.24],[0.44,-0.17],[0.51,-0.21],[0.61,-0.16],[0.70,-0.22],
[-1.14,-0.31],[-1.06,-0.27],[-1.01,-0.33],[-0.92,-0.29],[-0.87,-0.34],[-0.78,-0.30],[-0.73,-0.26],[-0.64,-0.33],[-0.59,-0.29],[-0.50,-0.34],[-0.45,-0.27],[-0.36,-0.31],[-0.31,-0.26],[-0.22,-0.33],[-0.17,-0.29],[-0.08,-0.34],[-0.01,-0.27],[0.04,-0.31],[0.13,-0.26],[0.18,-0.33],[0.27,-0.29],[0.32,-0.34],[0.40,-0.27],[0.48,-0.31],[0.55,-0.26],[0.64,-0.32],[0.74,-0.29],
[-1.15,-0.41],[-1.07,-0.37],[-1.02,-0.43],[-0.93,-0.39],[-0.88,-0.44],[-0.79,-0.40],[-0.74,-0.36],[-0.65,-0.43],[-0.60,-0.39],[-0.51,-0.44],[-0.46,-0.37],[-0.37,-0.41],[-0.32,-0.36],[-0.23,-0.43],[-0.18,-0.39],[-0.09,-0.44],[-0.02,-0.37],[0.03,-0.41],[0.12,-0.36],[0.17,-0.43],[0.26,-0.39],[0.31,-0.44],[0.38,-0.37],[0.45,-0.41],[0.51,-0.36],[0.58,-0.42],[0.66,-0.39],[0.76,-0.42],
[-1.14,-0.51],[-1.06,-0.47],[-1.01,-0.53],[-0.92,-0.49],[-0.87,-0.54],[-0.78,-0.50],[-0.73,-0.46],[-0.64,-0.53],[-0.59,-0.49],[-0.50,-0.54],[-0.45,-0.47],[-0.36,-0.51],[-0.31,-0.46],[-0.22,-0.53],[-0.17,-0.49],[-0.08,-0.54],[-0.01,-0.47],[0.04,-0.51],[0.13,-0.46],[0.18,-0.53],[0.27,-0.49],[0.32,-0.54],[0.41,-0.47],[0.46,-0.51],[0.56,-0.46],[0.63,-0.52],[0.73,-0.49],
[-1.12,-0.61],[-1.04,-0.57],[-0.99,-0.63],[-0.90,-0.59],[-0.85,-0.64],[-0.76,-0.60],[-0.71,-0.56],[-0.62,-0.63],[-0.57,-0.59],[-0.48,-0.64],[-0.43,-0.57],[-0.34,-0.61],[-0.29,-0.56],[-0.20,-0.63],[-0.15,-0.59],[-0.06,-0.64],[0.01,-0.57],[0.06,-0.61],[0.15,-0.56],[0.20,-0.63],[0.29,-0.59],[0.35,-0.64],[0.46,-0.57],[0.54,-0.61],[0.66,-0.57],
[-1.10,-0.71],[-1.02,-0.67],[-0.97,-0.73],[-0.88,-0.69],[-0.83,-0.74],[-0.74,-0.70],[-0.69,-0.66],[-0.60,-0.73],[-0.55,-0.69],[-0.46,-0.74],[-0.41,-0.67],[-0.32,-0.71],[-0.27,-0.66],[-0.18,-0.73],[-0.13,-0.69],[-0.04,-0.74],[0.03,-0.67],[0.08,-0.71],[0.17,-0.66],[0.23,-0.73],[0.33,-0.69],[0.40,-0.74],[0.50,-0.68],
[-1.06,-0.81],[-0.98,-0.77],[-0.93,-0.83],[-0.84,-0.79],[-0.79,-0.84],[-0.70,-0.80],[-0.65,-0.76],[-0.56,-0.83],[-0.51,-0.79],[-0.42,-0.84],[-0.37,-0.77],[-0.28,-0.81],[-0.23,-0.76],[-0.14,-0.83],[-0.09,-0.79],[0.00,-0.84],[0.05,-0.77],[0.14,-0.81],[0.20,-0.76],[0.30,-0.82],[0.38,-0.79],
[-0.96,-0.92],[-0.85,-0.88],[-0.78,-0.93],[-0.67,-0.89],[-0.61,-0.94],[-0.51,-0.90],[-0.45,-0.86],[-0.35,-0.93],[-0.29,-0.89],[-0.19,-0.94],[-0.13,-0.87],[-0.03,-0.91],[0.05,-0.86],[0.11,-0.93],[0.21,-0.89],[0.28,-0.94],
[-0.72,-0.99],[-0.59,-1.03],[-0.48,-0.97],[-0.39,-1.04],[-0.27,-0.99],[-0.19,-1.05],[-0.07,-0.98],[0.01,-1.03],[0.13,-0.97],[0.22,-1.02]
];
// extra reading of the saturated yellow core
const cluster3Core = [
[-0.58,0.96],[-0.50,0.99],[-0.36,0.96],[-0.27,1.00],[-0.19,0.95],[-0.08,0.98],[0.00,0.96],[0.08,1.00],[0.20,0.97],
[-0.75,0.85],[-0.63,0.88],[-0.52,0.84],[-0.42,0.86],[-0.35,0.84],[-0.21,0.87],[-0.13,0.83],[-0.04,0.87],[0.04,0.84],[0.11,0.88],[0.21,0.85],[0.29,0.84],
[-0.89,0.75],[-0.74,0.78],[-0.64,0.74],[-0.57,0.79],[-0.49,0.75],[-0.41,0.78],[-0.33,0.73],[-0.26,0.78],[-0.18,0.74],[-0.11,0.79],[-0.03,0.74],[0.05,0.78],[0.13,0.73],[0.20,0.77],[0.28,0.74],
[-0.88,0.63],[-0.74,0.66],[-0.66,0.64],[-0.59,0.68],[-0.52,0.63],[-0.44,0.66],[-0.39,0.62],[-0.30,0.67],[-0.24,0.64],[-0.16,0.68],[-0.09,0.63],[-0.01,0.67],[0.06,0.64],[0.13,0.68],[0.21,0.63],[0.30,0.66],[0.38,0.63],
[-0.95,0.55],[-0.82,0.56],[-0.72,0.53],[-0.63,0.58],[-0.57,0.54],[-0.49,0.57],[-0.42,0.53],[-0.35,0.58],[-0.29,0.54],[-0.21,0.57],[-0.15,0.53],[-0.07,0.56],[0.00,0.53],[0.07,0.57],[0.14,0.54],[0.23,0.58],[0.30,0.53],[0.40,0.55],
[-0.97,0.44],[-0.84,0.43],[-0.77,0.46],[-0.70,0.42],[-0.63,0.47],[-0.56,0.43],[-0.49,0.46],[-0.42,0.42],[-0.35,0.47],[-0.28,0.43],[-0.21,0.46],[-0.14,0.42],[-0.07,0.47],[0.00,0.43],[0.07,0.46],[0.14,0.42],[0.23,0.47],[0.31,0.43],[0.41,0.46],
[-1.00,0.35],[-0.86,0.33],[-0.79,0.36],[-0.72,0.32],[-0.65,0.37],[-0.58,0.33],[-0.51,0.36],[-0.44,0.34],[-0.37,0.37],[-0.30,0.33],[-0.23,0.36],[-0.16,0.32],[-0.09,0.37],[-0.02,0.33],[0.05,0.36],[0.14,0.33],[0.24,0.37],[0.29,0.34],[0.45,0.35],
[-1.03,0.25],[-0.89,0.23],[-0.82,0.26],[-0.75,0.22],[-0.68,0.27],[-0.61,0.23],[-0.54,0.26],[-0.47,0.22],[-0.40,0.27],[-0.33,0.23],[-0.26,0.26],[-0.19,0.22],[-0.12,0.27],[-0.05,0.23],[0.02,0.26],[0.09,0.22],[0.16,0.27],[0.23,0.23],[0.31,0.26],[0.39,0.27],[0.48,0.24],
[-1.05,0.16],[-0.91,0.14],[-0.84,0.15],[-0.77,0.13],[-0.70,0.17],[-0.63,0.12],[-0.56,0.16],[-0.49,0.13],[-0.42,0.17],[-0.35,0.12],[-0.28,0.16],[-0.21,0.13],[-0.14,0.17],[-0.07,0.12],[0.00,0.16],[0.07,0.13],[0.14,0.17],[0.21,0.12],[0.28,0.16],[0.36,0.13],[0.45,0.17],[0.55,0.14],
[-1.07,0.05],[-0.92,0.04],[-0.85,0.06],[-0.78,0.03],[-0.71,0.07],[-0.64,0.02],[-0.57,0.06],[-0.50,0.03],[-0.43,0.07],[-0.36,0.02],[-0.29,0.06],[-0.22,0.03],[-0.15,0.07],[-0.08,0.02],[-0.01,0.06],[0.06,0.03],[0.13,0.07],[0.20,0.02],[0.27,0.06],[0.35,0.03],[0.45,0.06],[0.54,0.04],
[-1.10,-0.05],[-0.94,-0.06],[-0.87,-0.04],[-0.80,-0.07],[-0.73,-0.03],[-0.66,-0.08],[-0.59,-0.04],[-0.52,-0.07],[-0.45,-0.03],[-0.38,-0.08],[-0.31,-0.04],[-0.24,-0.07],[-0.17,-0.03],[-0.10,-0.08],[-0.03,-0.04],[0.04,-0.07],[0.11,-0.03],[0.18,-0.08],[0.25,-0.04],[0.33,-0.07],[0.43,-0.04],[0.57,-0.06],
[-1.10,-0.16],[-0.95,-0.15],[-0.88,-0.17],[-0.81,-0.14],[-0.74,-0.18],[-0.67,-0.13],[-0.60,-0.17],[-0.53,-0.14],[-0.46,-0.18],[-0.39,-0.13],[-0.32,-0.17],[-0.25,-0.14],[-0.18,-0.18],[-0.11,-0.13],[-0.04,-0.17],[0.03,-0.14],[0.10,-0.18],[0.17,-0.13],[0.24,-0.17],[0.32,-0.14],[0.41,-0.16],[0.49,-0.14],[0.60,-0.13],
[-1.11,-0.26],[-0.96,-0.25],[-0.89,-0.27],[-0.82,-0.24],[-0.75,-0.28],[-0.68,-0.23],[-0.61,-0.27],[-0.54,-0.24],[-0.47,-0.28],[-0.40,-0.23],[-0.33,-0.27],[-0.26,-0.24],[-0.19,-0.28],[-0.12,-0.23],[-0.05,-0.27],[0.02,-0.24],[0.09,-0.28],[0.16,-0.23],[0.23,-0.27],[0.31,-0.24],[0.38,-0.28],[0.50,-0.25],[0.66,-0.26],
[-1.12,-0.36],[-0.97,-0.35],[-0.90,-0.37],[-0.83,-0.34],[-0.76,-0.38],[-0.69,-0.33],[-0.62,-0.37],[-0.55,-0.34],[-0.48,-0.38],[-0.41,-0.33],[-0.34,-0.37],[-0.27,-0.34],[-0.20,-0.38],[-0.13,-0.33],[-0.06,-0.37],[0.01,-0.34],[0.08,-0.38],[0.15,-0.33],[0.22,-0.37],[0.29,-0.35],[0.58,-0.36],[0.70,-0.37],
[-1.11,-0.46],[-0.97,-0.45],[-0.90,-0.47],[-0.83,-0.44],[-0.76,-0.48],[-0.69,-0.43],[-0.62,-0.47],[-0.55,-0.44],[-0.48,-0.48],[-0.41,-0.43],[-0.34,-0.47],[-0.27,-0.44],[-0.20,-0.48],[-0.13,-0.43],[-0.06,-0.47],[0.01,-0.44],[0.08,-0.48],[0.15,-0.43],[0.22,-0.47],[0.29,-0.45],[0.62,-0.46],[0.70,-0.44],
[-1.09,-0.56],[-0.96,-0.55],[-0.89,-0.57],[-0.82,-0.54],[-0.75,-0.58],[-0.68,-0.53],[-0.61,-0.57],[-0.54,-0.54],[-0.47,-0.58],[-0.40,-0.53],[-0.33,-0.57],[-0.26,-0.54],[-0.19,-0.58],[-0.12,-0.53],[-0.05,-0.57],[0.02,-0.54],[0.09,-0.58],[0.16,-0.53],[0.23,-0.57],[0.30,-0.55],[0.51,-0.56],[0.60,-0.54],
[-1.07,-0.66],[-0.94,-0.65],[-0.87,-0.67],[-0.80,-0.64],[-0.73,-0.68],[-0.66,-0.63],[-0.59,-0.67],[-0.52,-0.64],[-0.45,-0.68],[-0.38,-0.63],[-0.31,-0.67],[-0.24,-0.64],[-0.17,-0.68],[-0.10,-0.63],[-0.03,-0.67],[0.04,-0.64],[0.11,-0.68],[0.19,-0.63],[0.27,-0.66],[0.37,-0.64],[0.46,-0.66],
[-1.03,-0.76],[-0.91,-0.75],[-0.84,-0.77],[-0.77,-0.74],[-0.70,-0.78],[-0.63,-0.73],[-0.56,-0.77],[-0.49,-0.74],[-0.42,-0.78],[-0.35,-0.73],[-0.28,-0.77],[-0.21,-0.74],[-0.14,-0.78],[-0.07,-0.73],[0.00,-0.77],[0.07,-0.74],[0.14,-0.78],[0.22,-0.73],[0.30,-0.76],[0.41,-0.74],
[-0.99,-0.86],[-0.88,-0.84],[-0.80,-0.87],[-0.72,-0.85],[-0.63,-0.86],[-0.54,-0.84],[-0.46,-0.88],[-0.38,-0.84],[-0.31,-0.86],[-0.24,-0.84],[-0.16,-0.88],[-0.08,-0.84],[0.02,-0.86],[0.09,-0.84],[0.17,-0.87],[0.25,-0.85],[0.33,-0.87]
];
// a further pass over the densest yellow area and the top column
const cluster3Dense = [
[0.12,1.13],[0.18,1.09],[0.15,0.98],[0.21,0.95],[0.10,0.91],[0.17,0.83],[0.23,0.87],[0.13,0.78],[0.19,0.70],[0.08,0.71],[0.14,0.66],[0.25,0.66],[0.20,1.18],[0.09,1.04],[0.02,1.09],[-0.06,0.99],[0.26,1.00],[0.04,0.85],[-0.03,0.80],[0.01,0.72],
[-0.62,0.62],[-0.47,0.60],[-0.35,0.64],[-0.20,0.61],[-0.06,0.63],[0.08,0.60],[0.15,0.64],[0.22,0.60],
[-0.75,0.51],[-0.68,0.49],[-0.55,0.53],[-0.40,0.50],[-0.26,0.49],[-0.12,0.53],[0.02,0.50],[0.16,0.49],[0.28,0.51],
[-0.85,0.40],[-0.72,0.39],[-0.58,0.41],[-0.44,0.40],[-0.30,0.38],[-0.17,0.41],[-0.02,0.39],[0.12,0.40],[0.26,0.39],[0.35,0.41],
[-0.88,0.30],[-0.75,0.28],[-0.61,0.31],[-0.47,0.29],[-0.33,0.30],[-0.19,0.28],[-0.05,0.31],[0.10,0.29],[0.24,0.30],[0.40,0.29],
[-0.92,0.20],[-0.78,0.18],[-0.64,0.21],[-0.50,0.19],[-0.36,0.20],[-0.22,0.18],[-0.08,0.21],[0.06,0.19],[0.20,0.20],[0.30,0.18],[0.47,0.20],
[-0.95,0.10],[-0.81,0.08],[-0.67,0.11],[-0.53,0.09],[-0.39,0.10],[-0.25,0.08],[-0.11,0.11],[0.03,0.09],[0.17,0.10],[0.27,0.08],[0.43,0.10],
[-0.98,0.00],[-0.84,-0.02],[-0.70,0.01],[-0.56,-0.01],[-0.42,0.00],[-0.28,-0.02],[-0.14,0.01],[0.00,-0.01],[0.14,0.00],[0.28,-0.02],[0.37,0.00],[0.55,-0.02],
[-1.00,-0.10],[-0.86,-0.12],[-0.72,-0.09],[-0.58,-0.11],[-0.44,-0.10],[-0.30,-0.12],[-0.16,-0.09],[-0.02,-0.11],[0.12,-0.10],[0.26,-0.12],[0.40,-0.10],[0.50,-0.12],
[-1.02,-0.20],[-0.88,-0.22],[-0.74,-0.19],[-0.60,-0.21],[-0.46,-0.20],[-0.32,-0.22],[-0.18,-0.19],[-0.04,-0.21],[0.10,-0.20],[0.24,-0.22],[0.38,-0.20],[0.56,-0.21],
[-1.03,-0.30],[-0.89,-0.32],[-0.75,-0.29],[-0.61,-0.31],[-0.47,-0.30],[-0.33,-0.32],[-0.19,-0.29],[-0.05,-0.31],[0.09,-0.30],[0.23,-0.32],[0.37,-0.30],[0.45,-0.30],[0.60,-0.31],
[-1.04,-0.40],[-0.90,-0.42],[-0.76,-0.39],[-0.62,-0.41],[-0.48,-0.40],[-0.34,-0.42],[-0.20,-0.39],[-0.06,-0.41],[0.08,-0.40],[0.22,-0.42],[0.36,-0.40],[0.43,-0.44],[0.54,-0.39],
[-1.03,-0.50],[-0.89,-0.52],[-0.75,-0.49],[-0.61,-0.51],[-0.47,-0.50],[-0.33,-0.52],[-0.19,-0.49],[-0.05,-0.51],[0.09,-0.50],[0.23,-0.52],[0.37,-0.50],[0.44,-0.52],
[-1.00,-0.60],[-0.86,-0.62],[-0.72,-0.59],[-0.58,-0.61],[-0.44,-0.60],[-0.30,-0.62],[-0.16,-0.59],[-0.02,-0.61],[0.12,-0.60],[0.26,-0.62],[0.40,-0.60],
[-0.96,-0.70],[-0.82,-0.72],[-0.68,-0.69],[-0.54,-0.71],[-0.40,-0.70],[-0.26,-0.72],[-0.12,-0.69],[0.02,-0.71],[0.16,-0.70],[0.30,-0.72],
[-0.90,-0.80],[-0.74,-0.82],[-0.60,-0.79],[-0.46,-0.81],[-0.32,-0.80],[-0.18,-0.82],[-0.04,-0.79],[0.10,-0.81],[0.24,-0.80]
];

const clusters = [
  cluster0.concat(cluster0Core),
  cluster1.concat(cluster1Core),
  cluster2.concat(cluster2Core),
  cluster3.concat(cluster3Core, cluster3Dense)
];

const width = 999, height = 703;
const margin = { top: 34.3, right: 8.7, bottom: 53, left: 60.3 };
const plotW = width - margin.left - margin.right;
const plotH = height - margin.top - margin.bottom;

const svg = d3.select("#chart").append("svg")
  .attr("width", width)
  .attr("height", height)
  .style("background", "#fff");

const x = d3.scaleLinear().domain([-3.128, 3.334]).range([0, plotW]);
const y = d3.scaleLinear().domain([-2.34, 3.452]).range([plotH, 0]);

const g = svg.append("g").attr("transform", `translate(${margin.left},${margin.top})`);

// seaborn draws rows in data order, so the clusters get mixed together
const points = [];
const longest = d3.max(clusters, c => c.length);
for (let i = 0; i < longest; i++) {
  clusters.forEach((c, k) => {
    if (i < c.length) points.push({ px: c[i][0], py: c[i][1], k });
  });
}

g.append("g").attr("class", "dots")
  .selectAll("circle")
  .data(points)
  .join("circle")
  .attr("cx", d => x(d.px))
  .attr("cy", d => y(d.py))
  .attr("r", 2.65)
  .attr("fill", d => clusterColors[d.k])
  .attr("fill-opacity", 0.4)
  .attr("stroke", "#fff")
  .attr("stroke-opacity", 0.4)
  .attr("stroke-width", 0.5);

// axes
const tickLen = 4.9;
const fmt = d3.format("d");
const xAxis = g.append("g")
  .attr("transform", `translate(0,${plotH})`)
  .call(d3.axisBottom(x).tickValues(xTicks).tickFormat(fmt).tickSize(tickLen).tickPadding(4.9).tickSizeOuter(0));
const yAxis = g.append("g")
  .call(d3.axisLeft(y).tickValues(yTicks).tickFormat(fmt).tickSize(tickLen).tickPadding(4.9).tickSizeOuter(0));

[xAxis, yAxis].forEach(ax => {
  ax.select(".domain").remove();
  ax.selectAll(".tick line").attr("stroke", "#000").attr("stroke-width", 1.1);
  ax.selectAll(".tick text")
    .attr("font-family", "DejaVu Sans, sans-serif")
    .attr("font-size", 13.9)
    .attr("fill", "#000");
});

// frame
g.append("rect")
  .attr("width", plotW)
  .attr("height", plotH)
  .attr("fill", "none")
  .attr("stroke", "#000")
  .attr("stroke-width", 1.1);

// title + labels
svg.append("text")
  .attr("x", margin.left + plotW / 2)
  .attr("y", 26.5)
  .attr("text-anchor", "middle")
  .attr("font-size", 22)
  .text("K-Means Clusters (PCA 2D)");

svg.append("text")
  .attr("x", margin.left + plotW / 2)
  .attr("y", 690)
  .attr("text-anchor", "middle")
  .attr("font-size", 13.9)
  .text("PC 1");

svg.append("text")
  .attr("transform", `translate(20.5,${margin.top + plotH / 2}) rotate(-90)`)
  .attr("text-anchor", "middle")
  .attr("font-size", 13.9)
  .text("PC 2");

// legend
const legend = svg.append("g").attr("class", "legend");
legend.append("rect")
  .attr("x", 917.7).attr("y", 41.7)
  .attr("width", 65.3).attr("height", 108.3)
  .attr("rx", 2.8)
  .attr("fill", "#fff").attr("fill-opacity", 0.8)
  .attr("stroke", "#ccc").attr("stroke-width", 1.1);

legend.append("text")
  .attr("x", 950.4).attr("y", 58.2)
  .attr("text-anchor", "middle")
  .attr("font-size", 13.9)
  .text("clusters");

const legendRows = legend.selectAll("g.row")
  .data(clusterNames)
  .join("g")
  .attr("class", "row")
  .attr("transform", (d, i) => `translate(0,${73.4 + i * 21})`);

legendRows.append("circle")
  .attr("cx", 940.3)
  .attr("r", 2.65)
  .attr("fill", (d, i) => clusterColors[i])
  .attr("fill-opacity", 0.4)
  .attr("stroke", "#fff")
  .attr("stroke-opacity", 0.4)
  .attr("stroke-width", 0.5);

legendRows.append("text")
  .attr("x", 966.5)
  .attr("y", 5)
  .attr("font-size", 13.9)
  .text(d => d);
</script>
</body>
</html>
